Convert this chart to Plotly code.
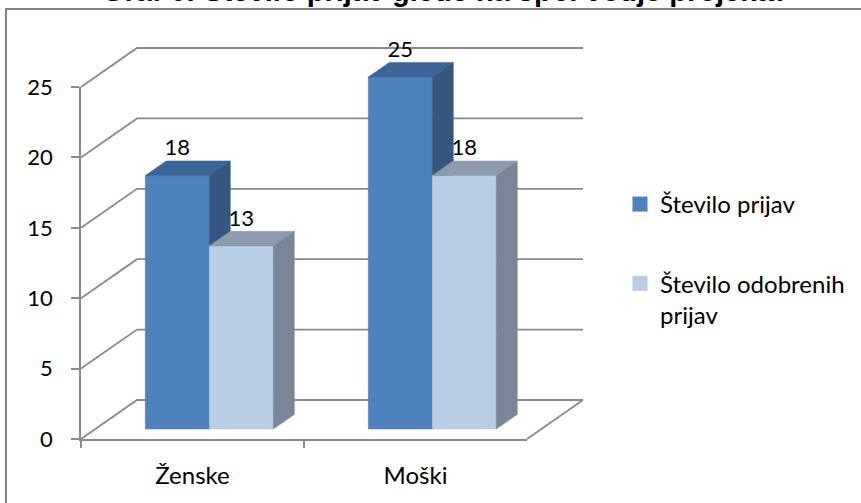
import plotly.graph_objects as go

# ---------------- data ----------------
categories = ["Ženske", "Moški"]
series_names = ["Število prijav", "Število odobrenih<br>prijav"]
prijave = [18, 25]
odobrene = [13, 18]
y_ticks = [0, 5, 10, 15, 20, 25]
title_text = "Graf 6: Število prijav glede na spol vodje projekta"

# ---------------- style / geometry ----------------
W, H = 861, 503
FONT = "Lato, Carlito, Calibri, 'Noto Sans', sans-serif"
FS = 24
FS_NUM = 22
GRID = "#8A8A8A"
front_cols = ["#4F81BD", "#B9CDE5"]
top_cols = ["#3C6494", "#8C9BAD"]
side_cols = ["#34567F", "#798696"]

# pixel calibration of the drawing axes
x0_px, unit_x = 81, 223.0      # category-unit width in px
y0_px, unit_y = 439, 14.08     # value-unit height in px
Dx = 56 / unit_x               # full depth shift (x units)
Dy = 39 / unit_y               # full depth shift (value units)
n_cat = len(categories)
d0, d1 = 0.256, 0.631          # bar depth span (fraction of full depth)
bar_w = 0.287
shift = 0.011

x_range = [-x0_px / unit_x, (W - x0_px) / unit_x]
y_range = [-(H - y0_px) / unit_y, y0_px / unit_y]

fig = go.Figure()

# 3D gridlines (side wall + back wall) and floor edge
gx, gy = [], []
for v in y_ticks:
    gx += [0, Dx, n_cat + Dx, None]
    gy += [v, v + Dy, v + Dy, None]
gx += [n_cat, n_cat + Dx, None]
gy += [0, Dy, None]
fig.add_trace(go.Scatter(x=gx, y=gy, mode="lines", line=dict(color=GRID, width=1.8),
                         hoverinfo="skip", showlegend=False))

# bars as projected boxes
all_series = [prijave, odobrene]
lab_x, lab_y, lab_t = [], [], []
for ci, cat in enumerate(categories):
    c = ci + 0.5
    for si, vals in enumerate(all_series):
        v = vals[ci]
        xl = c - bar_w + shift + si * bar_w
        xr = xl + bar_w
        fx0, fx1 = xl + d0 * Dx, xr + d0 * Dx
        fy0 = d0 * Dy
        bx0, bx1 = xl + d1 * Dx, xr + d1 * Dx
        by0 = d1 * Dy
        faces = [
            ([fx0, fx1, fx1, fx0, fx0], [fy0, fy0, v + fy0, v + fy0, fy0], front_cols[si]),
            ([fx0, fx1, bx1, bx0, fx0], [v + fy0, v + fy0, v + by0, v + by0, v + fy0], top_cols[si]),
            ([fx1, bx1, bx1, fx1, fx1], [fy0, by0, v + by0, v + fy0, fy0], side_cols[si]),
        ]
        for fxs, fys, col in faces:
            fig.add_trace(go.Scatter(x=fxs, y=fys, mode="lines", fill="toself",
                                     fillcolor=col, line=dict(color=col, width=0.5),
                                     hoverinfo="skip", showlegend=False))
        lab_x.append((fx0 + fx1) / 2)
        lab_y.append(v + by0)
        lab_t.append(str(v))

fig.add_trace(go.Scatter(x=lab_x, y=lab_y, text=lab_t, mode="text", textposition="top center",
                         textfont=dict(family=FONT, size=FS_NUM, color="black"),
                         cliponaxis=False, hoverinfo="skip", showlegend=False))

# legend entries
for si, name in enumerate(series_names):
    fig.add_trace(go.Scatter(x=[None], y=[None], mode="markers", name=name,
                             legendgroup=f"g{si}",
                             marker=dict(symbol="square", size=15, color=front_cols[si])))

# axes used for ticks / labels
fig.add_trace(go.Scatter(x=categories, y=[0, 0], xaxis="x2", yaxis="y2", mode="markers",
                         marker=dict(opacity=0), hoverinfo="skip", showlegend=False))

fig.update_layout(
    width=W, height=H,
    margin=dict(l=0, r=0, t=0, b=0, pad=0, autoexpand=False),
    paper_bgcolor="white", plot_bgcolor="rgba(0,0,0,0)",
    font=dict(family=FONT, size=FS, color="black"),
    showlegend=True,
    legend=dict(x=620 / W, y=1 - 182 / H, xanchor="left", yanchor="top",
                valign="top", tracegroupgap=45, bgcolor="rgba(0,0,0,0)",
                font=dict(family=FONT, size=FS), itemsizing="trace"),
    xaxis=dict(range=x_range, domain=[0, 1], visible=False, fixedrange=True,
               automargin=False),
    yaxis=dict(range=y_range, domain=[0, 1], visible=False, fixedrange=True,
               automargin=False),
    xaxis2=dict(domain=[x0_px / W, (x0_px + n_cat * unit_x) / W], anchor="y2",
                type="category", categoryorder="array", categoryarray=categories,
                range=[-0.5, n_cat - 0.5], tickson="boundaries", ticks="outside",
                ticklen=7, tickwidth=1.5, tickcolor=GRID, showline=True, linecolor=GRID,
                linewidth=1.8, showgrid=False, zeroline=False, ticklabelstandoff=14,
                tickfont=dict(family=FONT, size=FS), fixedrange=True, automargin=False),
    yaxis2=dict(domain=[1 - y0_px / H, 1 - (y0_px - 25 * unit_y) / H], anchor="x2",
                range=[0, 25], tickvals=y_ticks, ticks="outside", ticklen=8, tickwidth=1.5,
                tickcolor=GRID, showline=True, linecolor=GRID, linewidth=1.8,
                showgrid=False, zeroline=False, ticklabelstandoff=14,
                tickfont=dict(family=FONT, size=FS_NUM), fixedrange=True,
                automargin=False),
    shapes=[dict(type="rect", xref="paper", yref="paper", x0=6 / W, x1=1.02,
                 y0=-0.02, y1=1 - 9 / H, line=dict(color="#858585", width=2),
                 fillcolor="rgba(0,0,0,0)", layer="below")],
    annotations=[dict(text=f"<b>{title_text}</b>", xref="paper", yref="paper",
                      x=442 / W, y=1, xanchor="center", yanchor="middle", yshift=10,
                      showarrow=False,
                      font=dict(family="'Liberation Sans', Arial, sans-serif", size=29,
                                color="black"))],
)

fig.write_html("out.html", config={"displayModeBar": False},
               post_script="document.body.style.margin='0px';")
